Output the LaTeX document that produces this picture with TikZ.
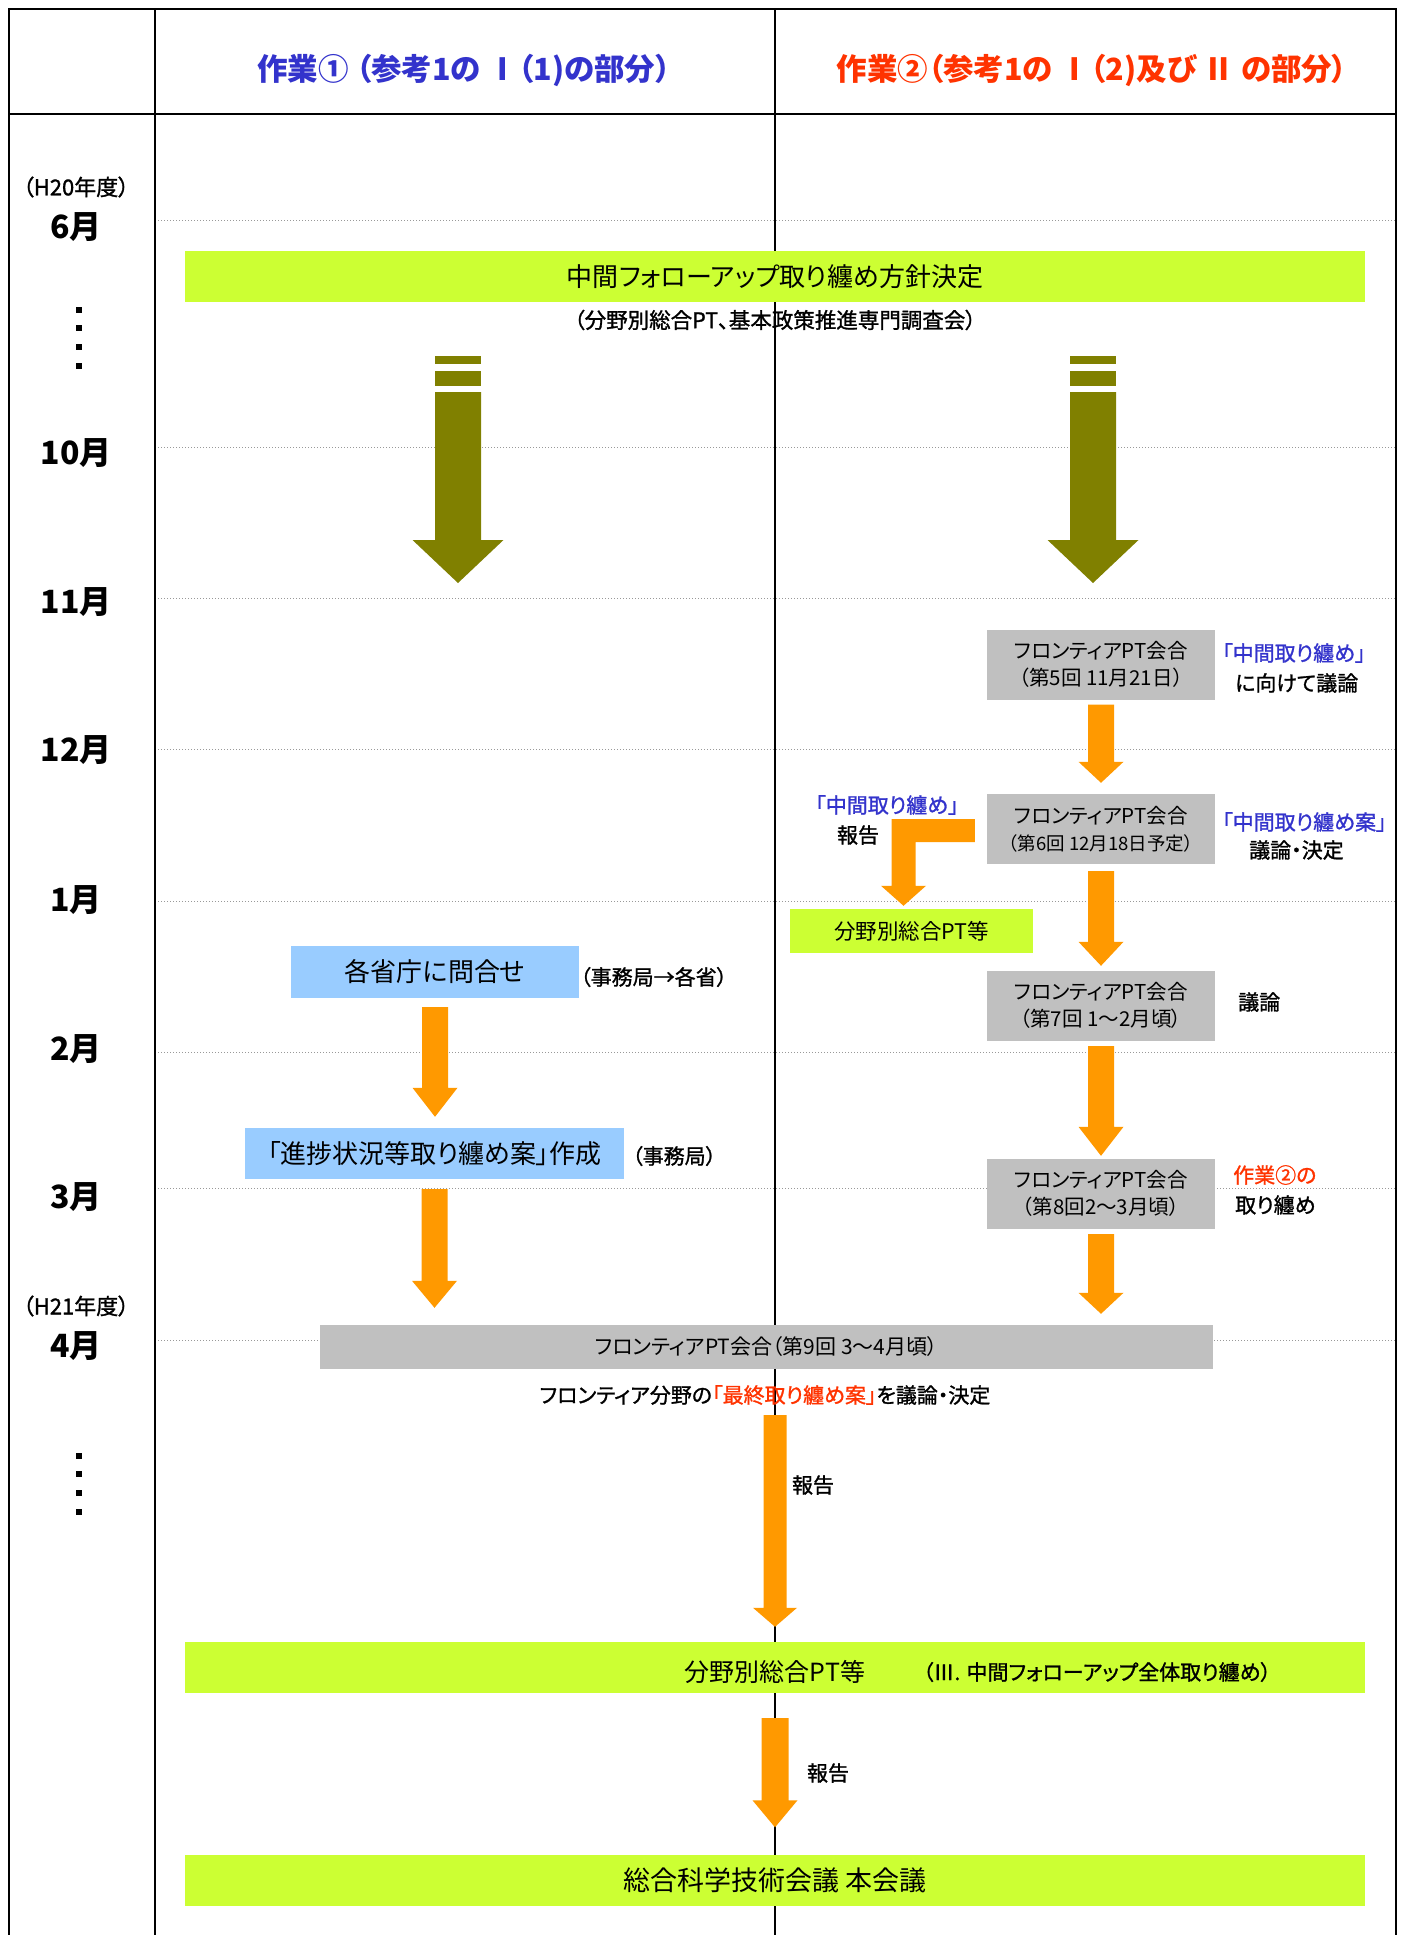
\documentclass[tikz,border=0pt]{standalone}
\usepackage{fontspec}
\setmainfont{Noto Sans CJK JP}[RawFeature=+palt]
\newfontfamily\medfont{Noto Sans CJK JP}[RawFeature=+palt, FakeBold=1.2]
\usetikzlibrary{calc}
\definecolor{limeG}{HTML}{CCFF33}
\definecolor{grayB}{HTML}{C0C0C0}
\definecolor{skyB}{HTML}{99CCFF}
\definecolor{orangeB}{HTML}{FF9900}
\definecolor{oliveB}{HTML}{808000}
\definecolor{blueT}{HTML}{3333CC}
\definecolor{redT}{HTML}{FF3300}
\definecolor{dotG}{HTML}{999999}
\newcommand{\fsz}[1]{\fontsize{#1}{27}\selectfont}
% vertical block arrow: #1 from, #2 tip, #3 shaft half width, #4 head half width, #5 head length
\newcommand{\blockarrow}[5]{%
  \fill[orangeB] let \p1=#1, \p2=#2 in
    (\x1-#3pt,\y1) -- (\x1+#3pt,\y1) -- (\x1+#3pt,\y2+#5pt) -- (\x1+#4pt,\y2+#5pt)
    -- (\x1,\y2) -- (\x1-#4pt,\y2+#5pt) -- (\x1-#3pt,\y2+#5pt) -- cycle;}
\begin{document}
\begin{tikzpicture}[x=1pt,y=-1pt,
  limebar/.style={fill=limeG, minimum width=1180pt, minimum height=51pt, inner sep=0pt},
  graybox/.style={fill=grayB, minimum width=228pt, minimum height=70pt, inner sep=0pt, align=center, font=\fontsize{20.5}{27}\selectfont},
  bluebox/.style={fill=skyB, minimum height=52pt, inner sep=0pt, font=\fsz{26}},
  note/.style={inner sep=2pt, font=\medfont\fsz{21}},
  month/.style={inner sep=0pt, font=\fsz{32}\bfseries},
  year/.style={inner sep=0pt, font=\medfont\fsz{22}},
  gridline/.style={dotG, dotted, line width=1pt}]
\useasboundingbox (0,0) rectangle (1402,1935);
\fill[white] (0,0) rectangle (1402,1935);

% month grid lines
\foreach \yy in {220,447,598,749,901,1052,1188,1340}
  \draw[gridline] (155,\yy) -- (1396,\yy);

% table frame
\draw[line width=2.5pt] (9,1935) -- (9,9) -- (1396,9) -- (1396,1935);
\draw[line width=2.5pt] (9,114) -- (1396,114);
\draw[line width=1.6pt] (155,9) -- (155,1935);
\draw[line width=1.6pt] (775,9) -- (775,1935);

% headers
\node[inner sep=0pt, font=\fsz{30.5}\bfseries, text=blueT] (h1) at (464,70) {作業① （参考1の Ⅰ（1)の部分）};
\node[inner sep=0pt, font=\fsz{30.5}\bfseries, text=redT] (h2) at (1092,70) {作業②（参考1の Ⅰ（2)及び Ⅱ の部分）};

% month column
\node[year] (y20) at (76,187) {（H20年度）};
\node[month] (m6) at (76,227) {6月};
\node[month] (m10) at (76,453) {10月};
\node[month] (m11) at (76,602) {11月};
\node[month] (m12) at (76,750) {12月};
\node[month] (m1) at (76,900) {1月};
\node[month] (m2) at (76,1049) {2月};
\node[month] (m3) at (76,1197) {3月};
\node[year] (y21) at (76,1306) {（H21年度）};
\node[month] (m4) at (76,1346) {4月};
\foreach \yy in {310,328,347,366,1456,1474,1493,1512}
  \fill (75.5,\yy-3) rectangle (81.5,\yy+3);

% top bar
\node[limebar, font=\fsz{26}] (bar1) at (775,276.5) {中間フォローアップ取り纏め方針決定};
\node[inner sep=2pt, font=\medfont\fsz{21.5}] (sub1) at (775,320) {（分野別総合PT、基本政策推進専門調査会）};

% olive arrows
\foreach \cx in {458,1093} {
  \fill[oliveB] (\cx-23,356) rectangle (\cx+23,364);
  \fill[oliveB] (\cx-23,371) rectangle (\cx+23,386);
  \fill[oliveB] (\cx-23,392) -- (\cx+23,392) -- (\cx+23,540) -- (\cx+45.5,540)
     -- (\cx,583) -- (\cx-45.5,540) -- (\cx-23,540) -- cycle;
}

% right column meetings
\node[graybox] (g5) at (1101,664.5) {フロンティアPT会合\\（第5回 11月21日）};
\node[graybox] (g6) at (1101,829) {フロンティアPT会合\\{\fontsize{18.5}{27}\selectfont（第6回 12月18日予定）}};
\node[graybox] (g7) at (1101,1005.5) {フロンティアPT会合\\（第7回 1～2月頃）};
\node[graybox] (g8) at (1101,1193.5) {フロンティアPT会合\\（第8回2～3月頃）};
\node[fill=grayB, minimum width=893pt, minimum height=44pt, inner sep=0pt, font=\fsz{21}] (g9) at (766.5,1347) {フロンティアPT会合（第9回 3～4月頃）};

% notes right
\node[note, anchor=west, text=blueT] (nA1) at (1220,653) {「中間取り纏め」};
\node[note, anchor=west] (nA2) at (1233,683) {に向けて議論};
\node[note, anchor=west, text=blueT] (nB1) at (1220,822) {「中間取り纏め案」};
\node[note, anchor=west] (nB2) at (1247,850) {議論・決定};
\node[note, anchor=west] (nC) at (1236,1002) {議論};
\node[note, anchor=west, text=redT] (nD1) at (1231,1175) {作業②の};
\node[note, anchor=west] (nD2) at (1233,1205) {取り纏め};
\node[note, text=blueT] (nL1) at (887,805) {「中間取り纏め」};
\node[note] (nL2) at (858,835) {報告};

% small green box
\node[fill=limeG, minimum width=243pt, minimum height=44pt, inner sep=0pt, font=\fsz{21.5}] (pt1) at (911.5,931) {分野別総合PT等};

% L-shaped arrow from g6 to pt1
\fill[orangeB] let \p1=(g6.west), \p2=(pt1.north) in
  (\x1-12pt,\y1+10pt) -- (\x2-20pt,\y1+10pt) -- (\x2-20pt,\y2+23pt) -- (\x2-30.5pt,\y2+23pt)
  -- (\x2-8pt,\y2+3pt) -- (\x2+14.5pt,\y2+23pt) -- (\x2+4pt,\y2+23pt) -- (\x2+4pt,\y1-13pt)
  -- (\x1-12pt,\y1-13pt) -- cycle;

% left column
\node[bluebox, minimum width=288pt] (q1) at (435,972) {各省庁に問合せ};
\node[note, anchor=west] (nq1) at (578,977) {（事務局→各省）};
\node[bluebox, minimum width=379pt, minimum height=51pt] (q2) at (434.5,1153.5) {「進捗状況等取り纏め案」作成};
\node[note, anchor=west] (nq2) at (630,1156) {（事務局）};

% right column arrows
\blockarrow{($(g5.south)+(0,5)$)}{($(g6.north)+(0,-11)$)}{13}{22.5}{21}
\blockarrow{($(g6.south)+(0,7)$)}{($(g7.north)+(0,-4.5)$)}{13}{22.5}{24}
\blockarrow{($(g7.south)+(0,5.5)$)}{($(g8.north)+(0,-2.5)$)}{13}{22.5}{29}
\blockarrow{($(g8.south)+(0,5.5)$)}{($(g8.south |- g9.north)+(0,-11)$)}{13}{22.5}{21}
% left column arrows
\blockarrow{($(q1.south)+(0,9)$)}{($(q2.north)+(0,-11)$)}{13}{22.5}{29}
\blockarrow{($(q2.south)+(0,10)$)}{($(q2.south |- g9.north)+(0,-17)$)}{13}{22.5}{27}

% final decision text
\node[inner sep=2pt, font=\medfont\fsz{21}] (fin) at (765,1395) {フロンティア分野の\textcolor{redT}{「最終取り纏め案」}を議論・決定};

% bottom bars
\node[limebar] (bar2) at (775,1667.5) {};
\node[inner sep=0pt, font=\fsz{25}] (bar2t) at (775,1672) {分野別総合PT等};
\node[inner sep=0pt, font=\medfont\fsz{21}] (bar2n) at (1097,1672) {（Ⅲ. 中間フォローアップ全体取り纏め）};
\node[limebar, font=\fsz{27}] (bar3) at (775,1880) {総合科学技術会議 本会議};

\blockarrow{($(bar2.north |- fin.south)+(0,8)$)}{($(bar2.north)+(0,-15)$)}{11.5}{22}{19}
\node[note] (r1) at (813,1485) {報告};
\blockarrow{($(bar2.south)+(0,25)$)}{($(bar3.north)+(0,-27)$)}{13.5}{22.5}{27}
\node[note] (r2) at (828,1773) {報告};
\end{tikzpicture}
\end{document}
